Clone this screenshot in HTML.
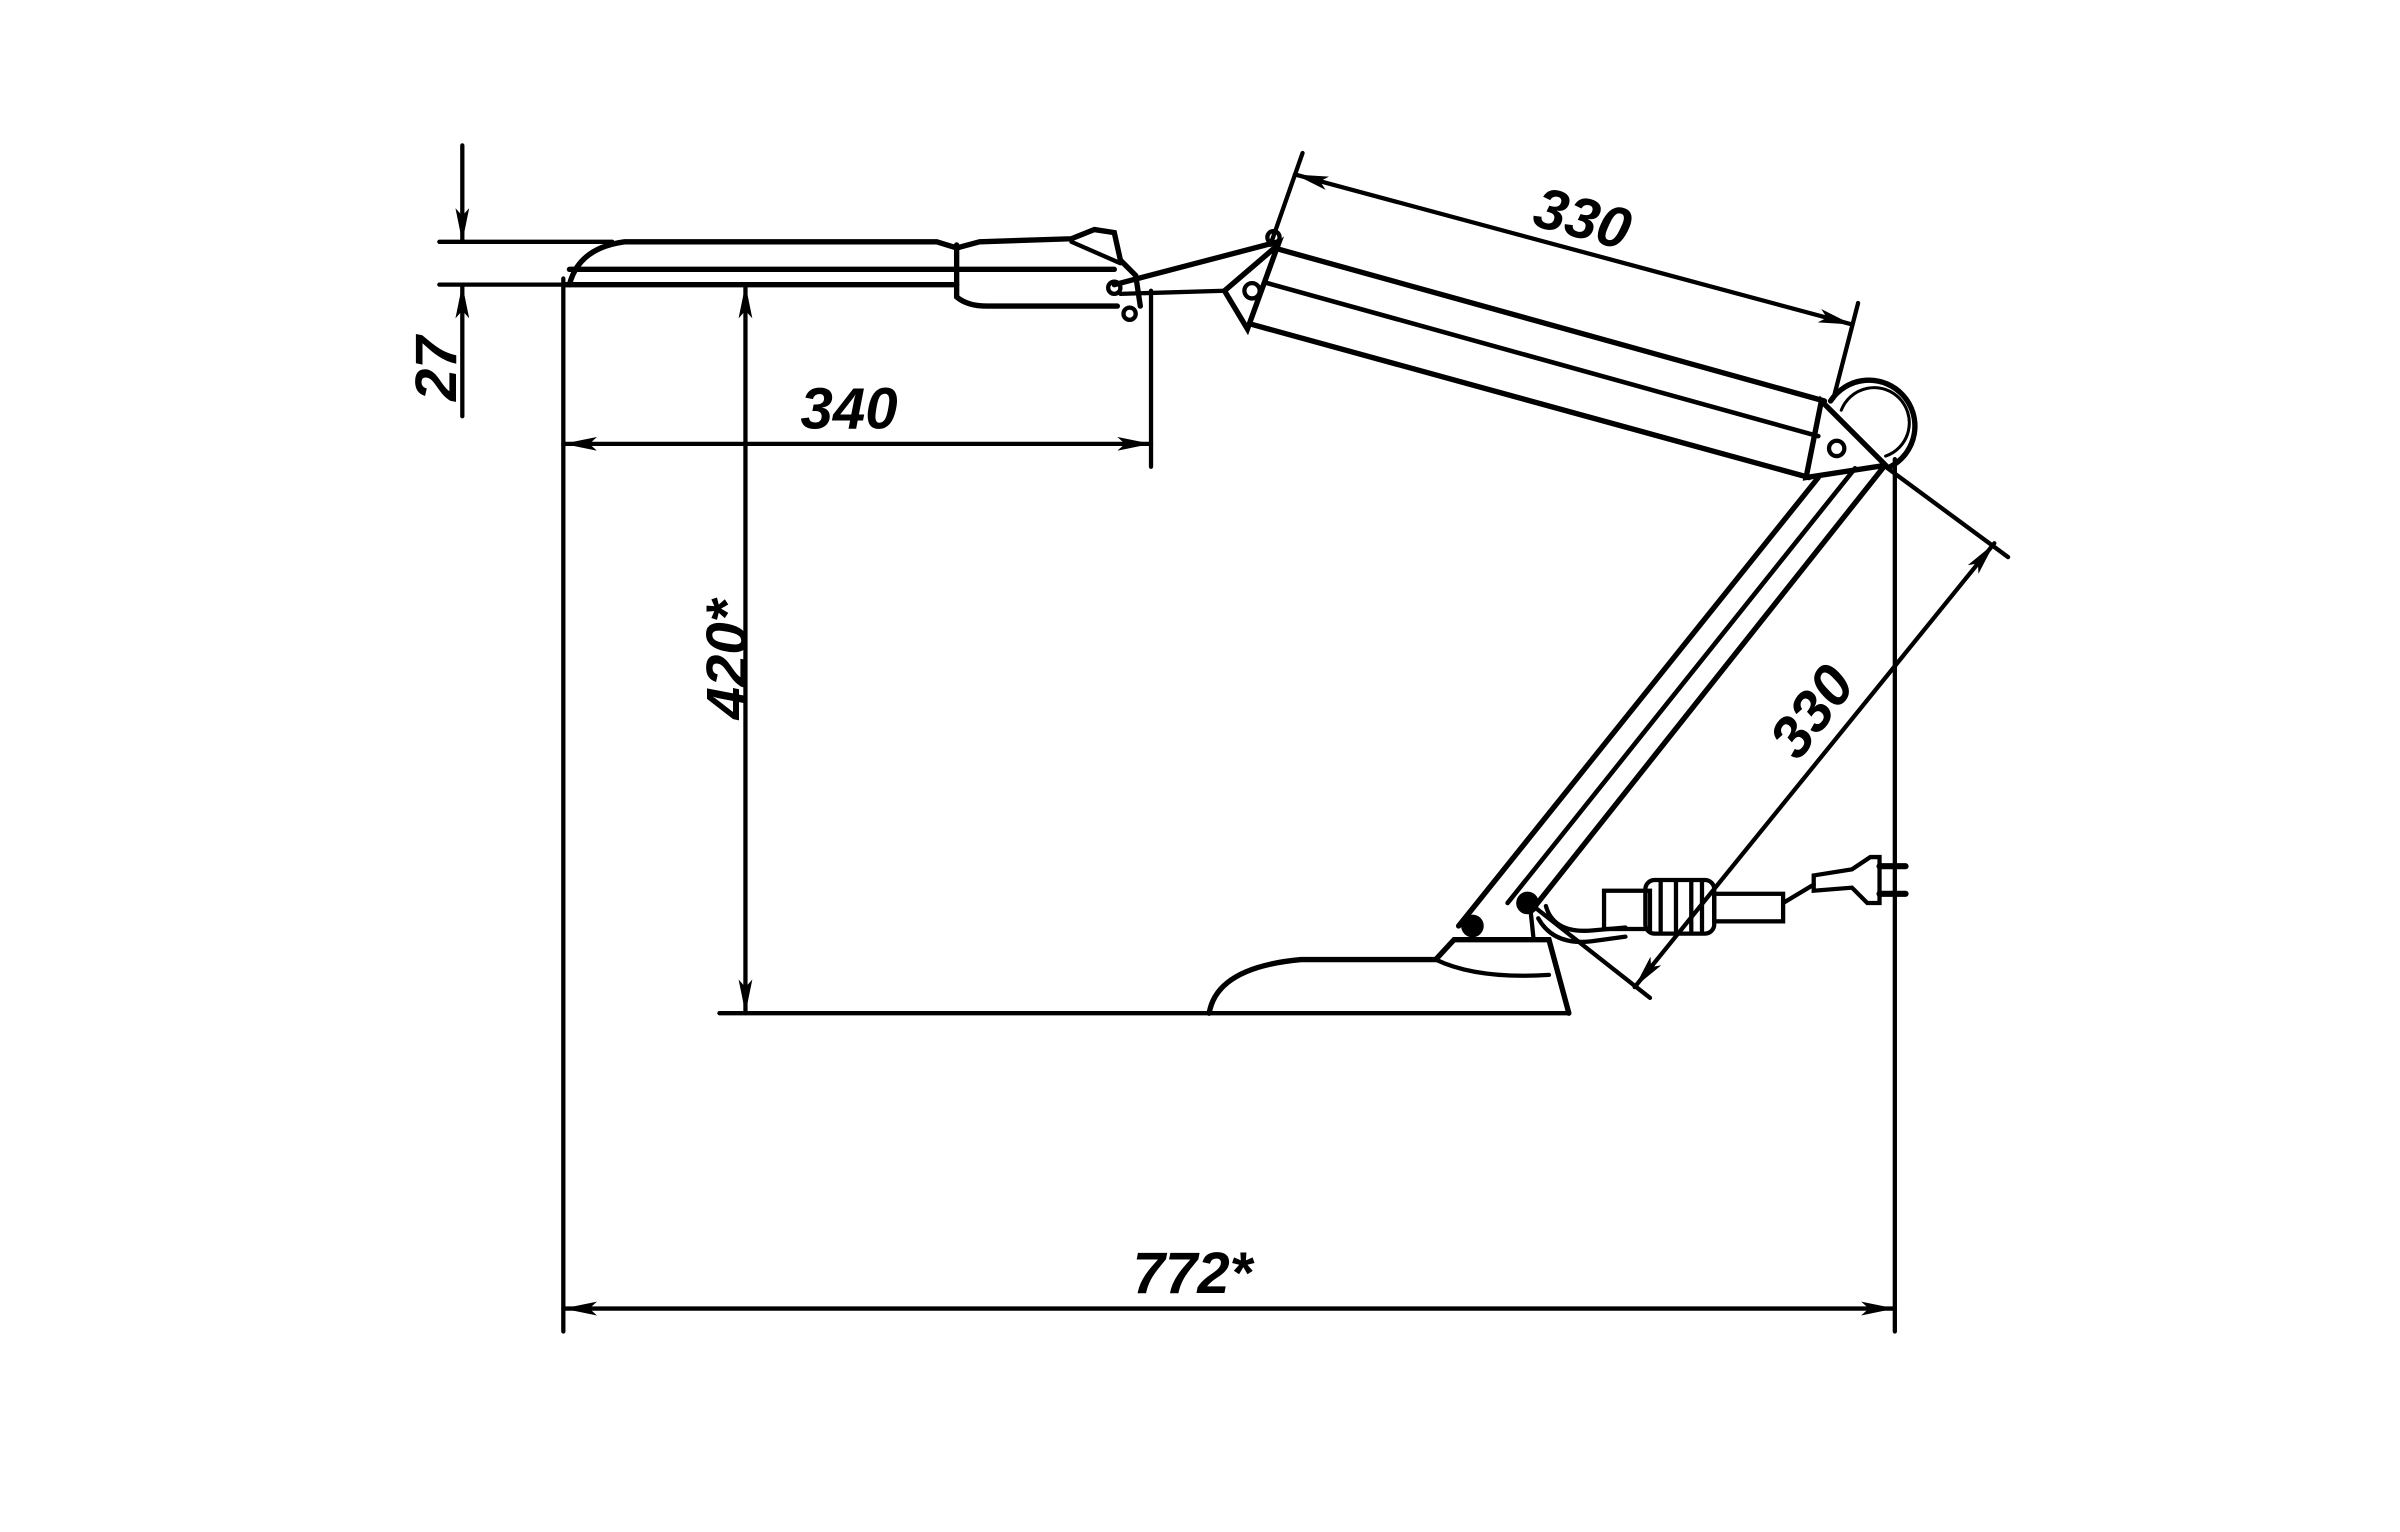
<!DOCTYPE html>
<html><head><meta charset="utf-8"><style>
html,body{margin:0;padding:0;background:#fff;}
svg{display:block}
text{font-family:"Liberation Sans",sans-serif;font-weight:bold;font-style:italic;font-size:38px;fill:#000}
</style></head><body>
<svg width="2400" height="1532" viewBox="0 0 1568 1001" xmlns="http://www.w3.org/2000/svg">
<defs>
<marker id="a" viewBox="0 0 22 9" refX="22" refY="4.5" markerWidth="22" markerHeight="9" markerUnits="userSpaceOnUse" orient="auto-start-reverse">
<path d="M0,0 L22,4.5 L0,9 L5,4.5 Z" fill="#000"/></marker>
</defs>
<g stroke="#000" stroke-width="2.8" fill="none" stroke-linecap="round">
<line x1="302" y1="95" x2="302" y2="158" marker-end="url(#a)"/>
<line x1="302" y1="272" x2="302" y2="186" marker-end="url(#a)"/>
<line x1="287" y1="158" x2="400" y2="158"/>
<line x1="287" y1="186" x2="370" y2="186"/>
<line x1="368" y1="182" x2="368" y2="870"/>
<line x1="752" y1="190" x2="752" y2="305"/>
<line x1="1238" y1="300" x2="1238" y2="870"/>
<line x1="368" y1="290" x2="752" y2="290" marker-start="url(#a)" marker-end="url(#a)"/>
<line x1="487" y1="186" x2="487" y2="662" marker-start="url(#a)" marker-end="url(#a)"/>
<line x1="470" y1="662" x2="1025" y2="662"/>
<line x1="368" y1="855" x2="1238" y2="855" marker-start="url(#a)" marker-end="url(#a)"/>
<line x1="851" y1="100" x2="830" y2="160"/>
<line x1="1214" y1="198" x2="1198" y2="260"/>
<line x1="846" y1="114" x2="1210" y2="212" marker-start="url(#a)" marker-end="url(#a)"/>
<line x1="1232" y1="305" x2="1312" y2="364"/>
<line x1="1003" y1="593" x2="1078" y2="652"/>
<line x1="1303" y1="355" x2="1068" y2="645" marker-start="url(#a)" marker-end="url(#a)"/>

<path d="M372,186 Q378,162 408,158 L612,158 L625,162 L640,158 L700,156 L715,150 L728,152 L732,170 L742,180 L745,200" stroke-width="3.5"/>
<line x1="372" y1="176" x2="728" y2="176" stroke-width="3.5"/>
<line x1="368" y1="186" x2="625" y2="186" stroke-width="3.5"/>
<path d="M625,160 L625,194 Q632,200 645,200 L730,200" stroke-width="3.5"/>
<line x1="700" y1="158" x2="732" y2="172"/>
<circle cx="728" cy="188" r="4"/>
<circle cx="738" cy="205" r="4"/>
<line x1="728" y1="186" x2="835" y2="158" stroke-width="3.5"/>
<line x1="732" y1="192" x2="800" y2="190"/>
<circle cx="832" cy="155" r="4"/>
<path d="M800,190 L835,160 L815,215 Z" stroke-width="3.5"/>
<circle cx="818" cy="190" r="5"/>
<line x1="836" y1="163" x2="1192" y2="262" stroke-width="3.5"/>
<line x1="828" y1="185" x2="1188" y2="285" stroke-width="3"/>
<line x1="818" y1="212" x2="1182" y2="312" stroke-width="3.5"/>
<path d="M1196,262 A30,30 0 1 1 1235,305" stroke-width="3.5"/>
<path d="M1203,268 A23,23 0 1 1 1232,298" stroke-width="2"/>
<path d="M1190,262 L1232,304 L1180,312 Z" stroke-width="3.5"/>
<circle cx="1200" cy="293" r="5"/>
<line x1="1188" y1="312" x2="953" y2="605" stroke-width="3.5"/>
<line x1="1212" y1="306" x2="985" y2="590" stroke-width="3"/>
<line x1="1230" y1="306" x2="1003" y2="592" stroke-width="3.5"/>
<circle cx="962" cy="605" r="6" fill="#000"/>
<circle cx="998" cy="590" r="6" fill="#000"/>
<path d="M790,662 Q795,632 850,627 L938,627 L950,614 L1012,614 L1025,662" stroke-width="3.5"/>
<path d="M938,627 Q965,640 1012,637"/>
<line x1="965" y1="614" x2="1000" y2="614"/>
<line x1="1000" y1="595" x2="1002" y2="614"/>
<path d="M1010,592 Q1015,610 1040,608 L1062,606"/>
<path d="M1005,600 Q1015,618 1040,615 L1062,612"/>
<rect x="1048" y="582" width="30" height="25"/>
<rect x="1075" y="575" width="45" height="35" rx="6"/>
<line x1="1085" y1="576" x2="1085" y2="608"/><line x1="1095" y1="576" x2="1095" y2="608"/>
<line x1="1105" y1="576" x2="1105" y2="608"/><line x1="1112" y1="576" x2="1112" y2="608"/>
<rect x="1120" y="584" width="45" height="18"/>
<line x1="1165" y1="590" x2="1185" y2="578"/>
<path d="M1185,572 L1210,568 L1222,560 L1228,560 L1228,590 L1220,590 L1210,580 L1185,582 Z"/>
<line x1="1228" y1="566" x2="1245" y2="566" stroke-width="4"/>
<line x1="1228" y1="584" x2="1245" y2="584" stroke-width="4"/>
</g>
<g>
<text x="0" y="0" transform="translate(298,262) rotate(-90)">27</text>
<text x="523" y="280">340</text>
<text x="0" y="0" transform="translate(488,470) rotate(-90)">420*</text>
<text x="740" y="845">772*</text>
<text x="0" y="0" transform="translate(1000,147) rotate(15)">330</text>
<text x="0" y="0" transform="translate(1175,498) rotate(-53)">330</text>
</g>
</svg>
</body></html>
